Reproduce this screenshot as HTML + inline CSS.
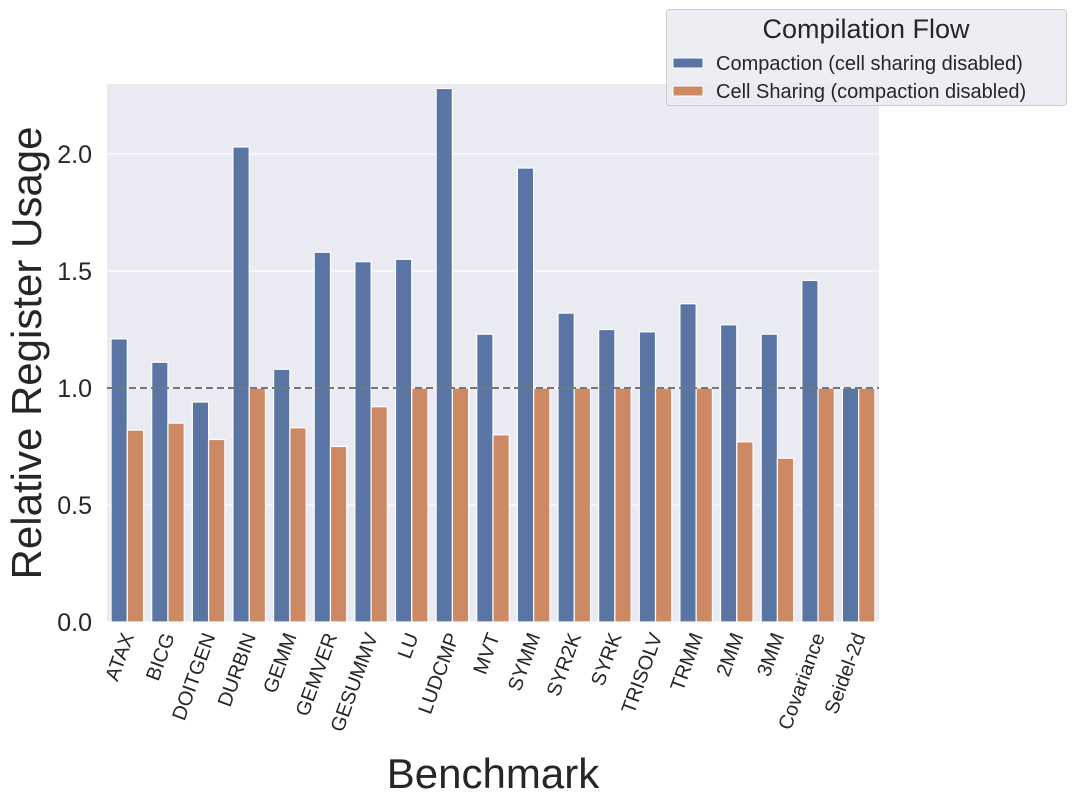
<!DOCTYPE html>
<html><head><meta charset="utf-8"><style>
body{margin:0;background:#fff;}
svg{display:block;font-family:"Liberation Sans","DejaVu Sans",sans-serif;}
</style></head><body>
<svg id="chart" width="1076" height="803"></svg>
<script>
const categories=["ATAX","BICG","DOITGEN","DURBIN","GEMM","GEMVER","GESUMMV","LU","LUDCMP","MVT","SYMM","SYR2K","SYRK","TRISOLV","TRMM","2MM","3MM","Covariance","Seidel-2d"];
const compaction=[1.21,1.11,0.94,2.03,1.08,1.58,1.54,1.55,2.28,1.23,1.94,1.32,1.25,1.24,1.36,1.27,1.23,1.46,1.0];
const sharing=[0.82,0.85,0.78,1.0,0.83,0.75,0.92,1.0,1.0,0.80,1.0,1.0,1.0,1.0,1.0,0.77,0.70,1.0,1.0];
const yTicks=[0,0.5,1.0,1.5,2.0];
const yTickLabels=["0.0","0.5","1.0","1.5","2.0"];
const seriesNames=["Compaction (cell sharing disabled)","Cell Sharing (compaction disabled)"];

const NS="http://www.w3.org/2000/svg";
const svg=document.getElementById('chart');
const L=107,R=879,T=84,B=622,yMax=(622-84)/234;
const y=v=>B-v/yMax*(B-T);
const band=(R-L)/categories.length;
const x=i=>L+band*i;
function mk(tag,attrs,parent){const e=document.createElementNS(NS,tag);for(const k in attrs)e.setAttribute(k,attrs[k]);(parent||svg).appendChild(e);return e;}

const bg=mk('rect',{x:L,y:T,width:R-L,height:B-T,fill:'#eaeaf2'});


yTicks.forEach((t,i)=>{
  const g=mk('line',{x1:L,x2:R,y1:y(t),y2:y(t),stroke:'#fff','stroke-width':1.3});
  
  
  const tx=mk('text',{x:L-15,y:y(t)+9,'text-anchor':'end','font-size':25,fill:'#262626'});
  tx.textContent=yTickLabels[i];
  
  
});
const colors=['#5975a4','#cc8963'];
const bw=band*0.4;
[compaction,sharing].forEach((s,si)=>{
  s.forEach((v,i)=>{
    const r=mk('rect',{x:x(i)+band*0.1+si*bw,y:y(v),width:bw,height:B-y(v),fill:colors[si],stroke:'#fff','stroke-width':1.2});
    
    
  });
});
const ref=mk('line',{x1:L,x2:R,y1:y(1),y2:y(1),stroke:'#777','stroke-width':2,'stroke-dasharray':'7,4'});


categories.forEach((c,i)=>{
  const cx=x(i)+band/2+7, cy=B+14;
  const t=mk('text',{x:cx,y:cy,'text-anchor':'end','font-size':20,fill:'#262626',transform:`rotate(-70 ${cx} ${cy})`});
  t.textContent=c;
  
  
});
const yl=mk('text',{x:41,y:353,'text-anchor':'middle','font-size':42,fill:'#262626',transform:'rotate(-90 41 353)'});
yl.textContent='Relative Register Usage';


const xl=mk('text',{x:493,y:788,'text-anchor':'middle','font-size':42,fill:'#262626'});
xl.textContent='Benchmark';


// legend
const lg=mk('g',{});


mk('rect',{x:666.5,y:9.5,width:400,height:96,rx:3,fill:'#eaeaf2','fill-opacity':0.85,stroke:'#ccc'},lg);
const lt=mk('text',{x:866,y:38,'text-anchor':'middle','font-size':27,fill:'#262626'},lg);
lt.textContent='Compilation Flow';


seriesNames.forEach((n,i)=>{
  const e=mk('g',{},lg);
  
  
  mk('rect',{x:673,y:58+i*28,width:30,height:10,fill:colors[i],stroke:'#fff'},e);
  const t=mk('text',{x:716,y:70+i*28,'font-size':20,fill:'#262626'},e);
  t.textContent=n;
});
</script>
</body></html>
